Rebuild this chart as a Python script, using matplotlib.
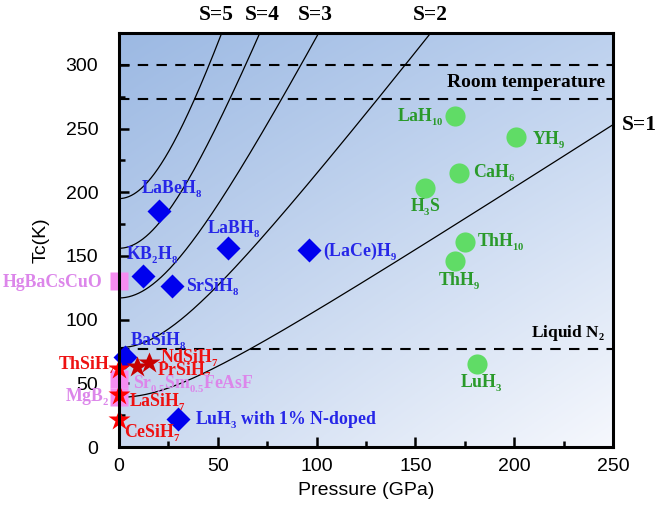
import numpy as np
import matplotlib
matplotlib.use('Agg')
import matplotlib.pyplot as plt
from matplotlib.colors import to_rgb

try:
    import matplotlib._mathtext as _mt
    _mt.SHRINK_FACTOR = 0.6
    _mt.FontConstantsBase.sub1 = 0.45
    _mt.FontConstantsBase.sub2 = 0.6
except Exception:
    pass

plt.rcParams['mathtext.fontset'] = 'custom'
plt.rcParams['mathtext.rm'] = 'Liberation Serif:bold'
plt.rcParams['mathtext.it'] = 'Liberation Serif:bold'
plt.rcParams['mathtext.bf'] = 'Liberation Serif:bold'
plt.rcParams['mathtext.default'] = 'rm'

# ---------------- data ----------------
S_values = [1, 2, 3, 4, 5]
Tc_MgB2_ref = 39.0
P_max = 250

hydride_names = ['LaH$_{10}$', 'YH$_9$', 'CaH$_6$', 'H$_3$S', 'ThH$_{10}$', 'ThH$_9$', 'LuH$_3$']
hydride_P = [170, 201, 172, 155, 175, 170, 181]
hydride_Tc = [260, 243, 215, 203, 161, 146, 65]

ternary_names = ['LaBeH$_8$', 'LaBH$_8$', '(LaCe)H$_9$', 'KB$_2$H$_8$', 'SrSiH$_8$',
                 'BaSiH$_8$', 'LuH$_3$ with 1% N-doped']
ternary_P = [20, 55, 96, 12, 27, 3, 30]
ternary_Tc = [185, 156, 155, 134, 126, 71, 22]

silicide_names = ['ThSiH$_7$', 'PrSiH$_7$', 'NdSiH$_7$', 'LaSiH$_7$', 'CeSiH$_7$']
silicide_P = [0, 9, 15, 0, 0]
silicide_Tc = [61, 63, 66, 41, 21]

ambient_names = ['HgBaCsCuO', 'Sr$_{0.5}$Sm$_{0.5}$FeAsF', 'MgB$_2$']
ambient_P = [0, 0, 0]
ambient_Tc = [130, 53, 39]

reference_T = [300, 273, 77]
reference_names = ['', 'Room temperature', 'Liquid N$_2$']

x_ticks = [0, 50, 100, 150, 200, 250]
y_ticks = [0, 50, 100, 150, 200, 250, 300]

# ---------------- layout (label offsets in pixels: dx right, dy down; ha) ----------------
hydride_off = [(-11, 6, 'right'), (16, 7, 'left'), (14, 5, 'left'), (0, 24, 'center'),
               (12, 5, 'left'), (4, 25, 'center'), (5, 24, 'center')]
ternary_off = [(13, -17, 'center'), (6, -14, 'center'), (14, 6, 'left'), (10, -16, 'center'),
               (14, 5, 'left'), (5, -11, 'left'), (17, 6, 'left')]
silicide_off = [(-3, 1, 'right'), (20, 9, 'left'), (11, 0, 'left'), (10, 12, 'left'), (5, 18, 'left')]
ambient_off = [(-17, 6, 'right'), (14, 9, 'left'), (-10, 5, 'right')]
S_label_dx = {2: 0, 3: -2, 4: 1, 5: -3}
ref_label_size = {'Room temperature': 14, 'Liquid N$_2$': 12.5}

# ---------------- figure ----------------
fig = plt.figure(figsize=(6.59, 5.14), dpi=100)
ax = fig.add_axes([119 / 659, (514 - 447) / 514, (613 - 119) / 659, (447 - 33) / 514])
ax.set_xlim(0, 250)
ax.set_ylim(0, 325)

# background gradient (bilinear between corner colours)
nx, ny = 200, 200
u = np.linspace(0, 1, nx)[None, :, None]
v = np.linspace(0, 1, ny)[:, None, None]  # 0 = top
tl, tr = np.array(to_rgb('#9cb9e3')), np.array(to_rgb('#bdd1ee'))
bl, br = np.array(to_rgb('#cad9f0')), np.array(to_rgb('#f6f8fd'))
img = (1 - v) * ((1 - u) * tl + u * tr) + v * ((1 - u) * bl + u * br)
ax.imshow(img, extent=[0, 250, 0, 325], aspect='auto', origin='upper', zorder=0)

# S curves
serif = 'Liberation Serif'
P = np.linspace(0, P_max, 600)
for S in S_values:
    Tc = S * np.sqrt(Tc_MgB2_ref ** 2 + P ** 2)
    ax.plot(P, Tc, color='black', lw=0.9, zorder=1)
    if S == 1:
        ax.text(P_max + 4.5, S * np.sqrt(Tc_MgB2_ref ** 2 + P_max ** 2), 'S=1',
                fontsize=15.5, fontweight='bold', family=serif, ha='left', va='center', clip_on=False)
    else:
        Pexit = np.sqrt((325.0 / S) ** 2 - Tc_MgB2_ref ** 2)
        ax.text(Pexit + S_label_dx[S], 331, f'S={S}', fontsize=15.5, fontweight='bold', family=serif,
                ha='center', va='bottom', clip_on=False)

# reference dashed lines
for T, name in zip(reference_T, reference_names):
    ax.axhline(T, color='black', lw=1.5, ls=(0, (5, 4)), zorder=1)
    if name:
        ax.text(246, T + 9.3, name, fontsize=ref_label_size[name], fontweight='bold', family=serif,
                ha='right', va='baseline')

px2pt = 0.72


def label(names, Ps, Tcs, offs, color):
    for n, p, tc, (dx, dy, ha) in zip(names, Ps, Tcs, offs):
        ax.annotate(n, (p, tc), xytext=(dx * px2pt, -dy * px2pt), textcoords='offset points',
                    ha=ha, va='baseline', fontsize=12.8, fontweight='bold', family=serif,
                    color=color, annotation_clip=False, zorder=6)


# markers
ax.plot(ambient_P, ambient_Tc, 's', ms=12.5, color='#f58cf0', mec='none', clip_on=False, zorder=3)
ax.plot(ternary_P, ternary_Tc, 'D', ms=12.5, color='#0000ee', mec='none', clip_on=False, zorder=4)
sil_colors = ['#ff0000', '#c80000', '#c80000', '#ff0000', '#ff0000']
for p, tc, c in zip(silicide_P, silicide_Tc, sil_colors):
    ax.plot([p], [tc], '*', ms=16.5, color=c, mec='none', clip_on=False, zorder=5)
ax.plot(hydride_P, hydride_Tc, 'o', ms=14.5, color='#60dc66', mec='none', clip_on=False, zorder=4)

label(hydride_names, hydride_P, hydride_Tc, hydride_off, '#2a9a2a')
label(ternary_names, ternary_P, ternary_Tc, ternary_off, '#2626e8')
label(silicide_names, silicide_P, silicide_Tc, silicide_off, '#ee1111')
label(ambient_names, ambient_P, ambient_Tc, ambient_off, '#dc86ea')

# axes styling
ax.set_xticks(x_ticks)
ax.set_yticks(y_ticks)
ax.set_xticks(np.arange(25, 250, 50), minor=True)
ax.set_yticks(np.arange(25, 325, 50), minor=True)
ax.tick_params(which='both', direction='in', top=False, right=False, width=1.8)
ax.tick_params(which='major', length=7)
ax.tick_params(which='minor', length=4.5)
ax.tick_params(axis='y', which='major', pad=15)
ax.tick_params(axis='x', which='major', pad=8)
for lab in ax.get_xticklabels() + ax.get_yticklabels():
    lab.set_family('Liberation Sans')
    lab.set_fontsize(14)
for sp in ax.spines.values():
    sp.set_linewidth(2.2)
    sp.set_zorder(7)

ax.set_xlabel('Pressure (GPa)', fontsize=14, family='Liberation Sans')
ax.set_ylabel('Tc(K)', fontsize=14, family='Liberation Sans')
ax.xaxis.set_label_coords(0.5, -0.085)
ax.yaxis.set_label_coords(-0.14, 0.5)

fig.savefig('out.png', dpi=100)
